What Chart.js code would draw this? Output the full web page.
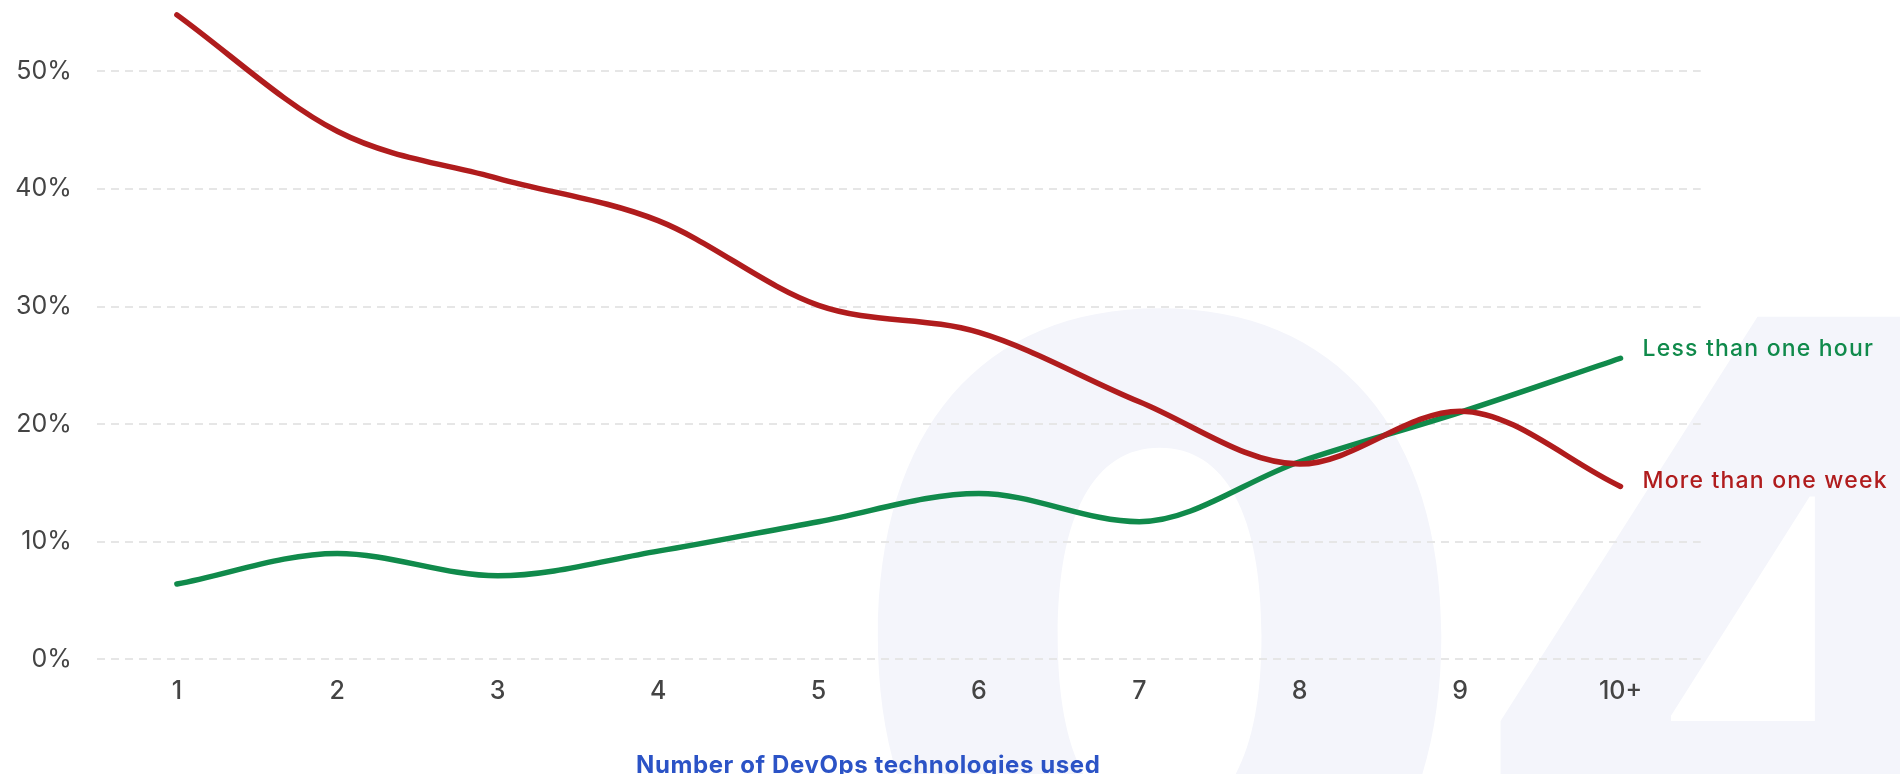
<!DOCTYPE html>
<html>
<head>
<meta charset="utf-8">
<title>Time to restore service by number of DevOps technologies used</title>
<script src="https://cdn.jsdelivr.net/npm/chart.js@4.4.1/dist/chart.umd.min.js"></script>
<style>
    html, body { margin: 0; padding: 0; background: #fff; overflow: hidden; }
    .chart-wrap { position: relative; width: 1900px; height: 774px; }
</style>
</head>
<body>
<div class="chart-wrap"><canvas id="restore-chart"></canvas></div>
<script>
// data (percent of respondents)
const categories = ['1', '2', '3', '4', '5', '6', '7', '8', '9', '10+'];
const lessThanHour = [6.4, 9.0, 7.1, 9.2, 11.7, 14.1, 11.7, 16.8, 21.0, 25.6];
const moreThanWeek = [54.8, 44.9, 40.9, 37.3, 30.1, 27.8, 21.9, 16.6, 21.1, 14.7];
const seriesNames = ['Less than one hour', 'More than one week'];
const yTicks = [0, 10, 20, 30, 40, 50];
const axisTitle = 'Number of DevOps technologies used';
const watermark = '04';

const GREEN = '#108a4b';
const RED = '#b01c1d';
const TICK = '#444444';
const FONT = 'Inter';

// big pale "04" behind the plot
const watermarkPlugin = {
    id: 'watermark',
    beforeDraw(chart) {
        const { ctx } = chart;
        ctx.save();
        ctx.fillStyle = '#f4f5fb';
        ctx.textAlign = 'left';
        ctx.textBaseline = 'alphabetic';
        ctx.font = `900 100px ${FONT}`;
        const probe = ctx.measureText(watermark[0]);
        const size = 100 * 570 / (probe.actualBoundingBoxLeft + probe.actualBoundingBoxRight);
        ctx.font = `900 ${size}px ${FONT}`;
        const zero = ctx.measureText(watermark[0]);
        const baseline = 297 + zero.actualBoundingBoxAscent;
        const zeroX = 1163 - (zero.actualBoundingBoxRight - zero.actualBoundingBoxLeft) / 2;
        ctx.fillText(watermark[0], zeroX, baseline);
        const four = ctx.measureText(watermark[1]);
        ctx.fillText(watermark[1], 1492 + four.actualBoundingBoxLeft, baseline);
        ctx.restore();
    }
};

// series names written at the end of each line
const endLabelsPlugin = {
    id: 'endLabels',
    afterDatasetsDraw(chart) {
        const { ctx } = chart;
        ctx.save();
        ctx.font = `500 23px ${FONT}`;
        ctx.letterSpacing = '1.2px';
        ctx.textAlign = 'left';
        ctx.textBaseline = 'middle';
        chart.data.datasets.forEach((ds, i) => {
            const meta = chart.getDatasetMeta(i);
            const last = meta.data[meta.data.length - 1];
            ctx.fillStyle = ds.borderColor;
            ctx.fillText(ds.label, last.x + 22, last.y + ds.labelShift);
        });
        ctx.restore();
    }
};

// x axis title sits low and slightly left of centre, cut by the bottom edge
const axisTitlePlugin = {
    id: 'axisTitle',
    afterDraw(chart) {
        const { ctx, chartArea } = chart;
        ctx.save();
        ctx.font = `700 24px ${FONT}`;
        ctx.letterSpacing = '0.6px';
        ctx.fillStyle = '#2b53c6';
        ctx.textAlign = 'center';
        ctx.textBaseline = 'alphabetic';
        ctx.fillText(axisTitle, chartArea.left + chartArea.width * 0.481, 773);
        ctx.restore();
    }
};

new Chart(document.getElementById('restore-chart'), {
    type: 'line',
    data: {
        labels: categories,
        datasets: [
            {
                label: seriesNames[1],
                data: moreThanWeek,
                borderColor: RED,
                labelShift: -5
            },
            {
                label: seriesNames[0],
                data: lessThanHour,
                borderColor: GREEN,
                labelShift: -9
            }
        ]
    },
    options: {
        responsive: true,
        maintainAspectRatio: false,
        animation: false,
        layout: { padding: { top: 12.5, right: 199.3, bottom: 0, left: 0 } },
        datasets: {
            line: {
                borderWidth: 5.5,
                borderCapStyle: 'round',
                borderJoinStyle: 'round',
                cubicInterpolationMode: 'monotone',
                pointRadius: 0,
                fill: false,
                clip: false
            }
        },
        plugins: {
            legend: { display: false },
            tooltip: { enabled: false }
        },
        scales: {
            x: {
                offset: true,
                grid: { display: false, drawTicks: false },
                border: { display: false },
                ticks: {
                    color: TICK,
                    padding: 17,
                    font: { family: FONT, size: 25, weight: '500' }
                },
                afterFit(scale) {
                    scale.height = 114.7;
                    scale.paddingLeft = 0;
                    scale.paddingRight = 0;
                }
            },
            y: {
                min: 0,
                max: 55,
                afterBuildTicks(scale) {
                    scale.ticks = yTicks.map(v => ({ value: v }));
                },
                grid: { color: '#e6e6e6', lineWidth: 2, drawTicks: false },
                border: { display: false, dash: [8, 6] },
                ticks: {
                    color: TICK,
                    padding: 25,
                    font: { family: FONT, size: 25, weight: '400' },
                    callback: v => v + '%'
                },
                afterFit(scale) {
                    scale.width = 96.7;
                    scale.paddingTop = 0;
                    scale.paddingBottom = 0;
                }
            }
        }
    },
    plugins: [watermarkPlugin, endLabelsPlugin, axisTitlePlugin]
});
</script>
</body>
</html>
